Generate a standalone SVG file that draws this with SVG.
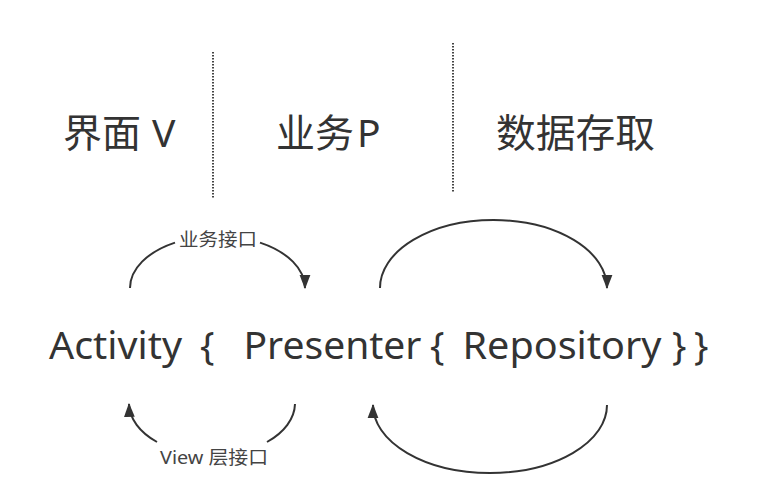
<svg xmlns="http://www.w3.org/2000/svg" width="764" height="483" viewBox="0 0 764 483">
<style>
  .hdr { font-family: "Noto Sans", "Noto Sans CJK SC", sans-serif; font-size: 39px; fill: #333; }
  .main { font-family: "Noto Sans", "Noto Sans CJK SC", sans-serif; font-size: 38px; fill: #333; }
  .lbl { font-family: "Noto Sans", "Noto Sans CJK SC", sans-serif; font-size: 18px; fill: #444; }
  .conn { fill: none; stroke: #333; stroke-width: 2; }
  .sep { fill: none; stroke: #444; stroke-width: 2; stroke-dasharray: 1.5 1.5; }
</style>
<defs>
  <marker id="arrow" markerUnits="userSpaceOnUse" markerWidth="14" markerHeight="12" refX="12" refY="5" orient="auto" viewBox="0 0 13 10">
    <path d="M0,0 L13,5 L0,10 Z" fill="#333"/>
  </marker>
</defs>
<rect width="764" height="483" fill="#fff"/>

<g id="separators">
  <line class="sep" x1="213" y1="52" x2="213" y2="198"/>
  <line class="sep" x1="453" y1="43" x2="453" y2="193"/>
</g>

<g id="header-view">
  <text class="hdr" y="147"><tspan x="63">界面</tspan><tspan x="152">V</tspan></text>
</g>
<g id="header-presenter">
  <text class="hdr" y="147"><tspan x="276">业务</tspan><tspan x="357">P</tspan></text>
</g>
<g id="header-data">
  <text class="hdr" x="496" y="147" textLength="159" lengthAdjust="spacingAndGlyphs">数据存取</text>
</g>

<g id="activity">
  <text class="main" y="359"><tspan x="49" textLength="133" lengthAdjust="spacingAndGlyphs">Activity</tspan><tspan x="200">{</tspan></text>
</g>
<g id="presenter">
  <text class="main" y="359"><tspan x="243.5" textLength="178" lengthAdjust="spacingAndGlyphs">Presenter</tspan><tspan x="430">{</tspan></text>
</g>
<g id="repository">
  <text class="main" y="359"><tspan x="462.5" textLength="199" lengthAdjust="spacingAndGlyphs">Repository</tspan><tspan x="672">}</tspan><tspan x="694">}</tspan></text>
</g>

<g id="connectors">
  <path class="conn" marker-end="url(#arrow)" d="M130,288 A87.5,52 0 0 1 175,242.6 M260,242.6 A87.5,52 0 0 1 305,288"/>
  <text class="lbl" x="179" y="245.5" textLength="78" lengthAdjust="spacingAndGlyphs">业务接口</text>
  <path class="conn" marker-end="url(#arrow)" d="M295,404 A83,52 0 0 1 267,442 M157,442 A83,52 0 0 1 129,404"/>
  <text class="lbl" x="160" y="464" textLength="108" lengthAdjust="spacingAndGlyphs">View 层接口</text>
  <path class="conn" marker-end="url(#arrow)" d="M380,288 A113.5,68 0 0 1 493.5,220 A113.5,68 0 0 1 607,288"/>
  <path class="conn" marker-end="url(#arrow)" d="M607,405 A117,68 0 0 1 490,473 A117,68 0 0 1 373,405"/>
</g>
</svg>
